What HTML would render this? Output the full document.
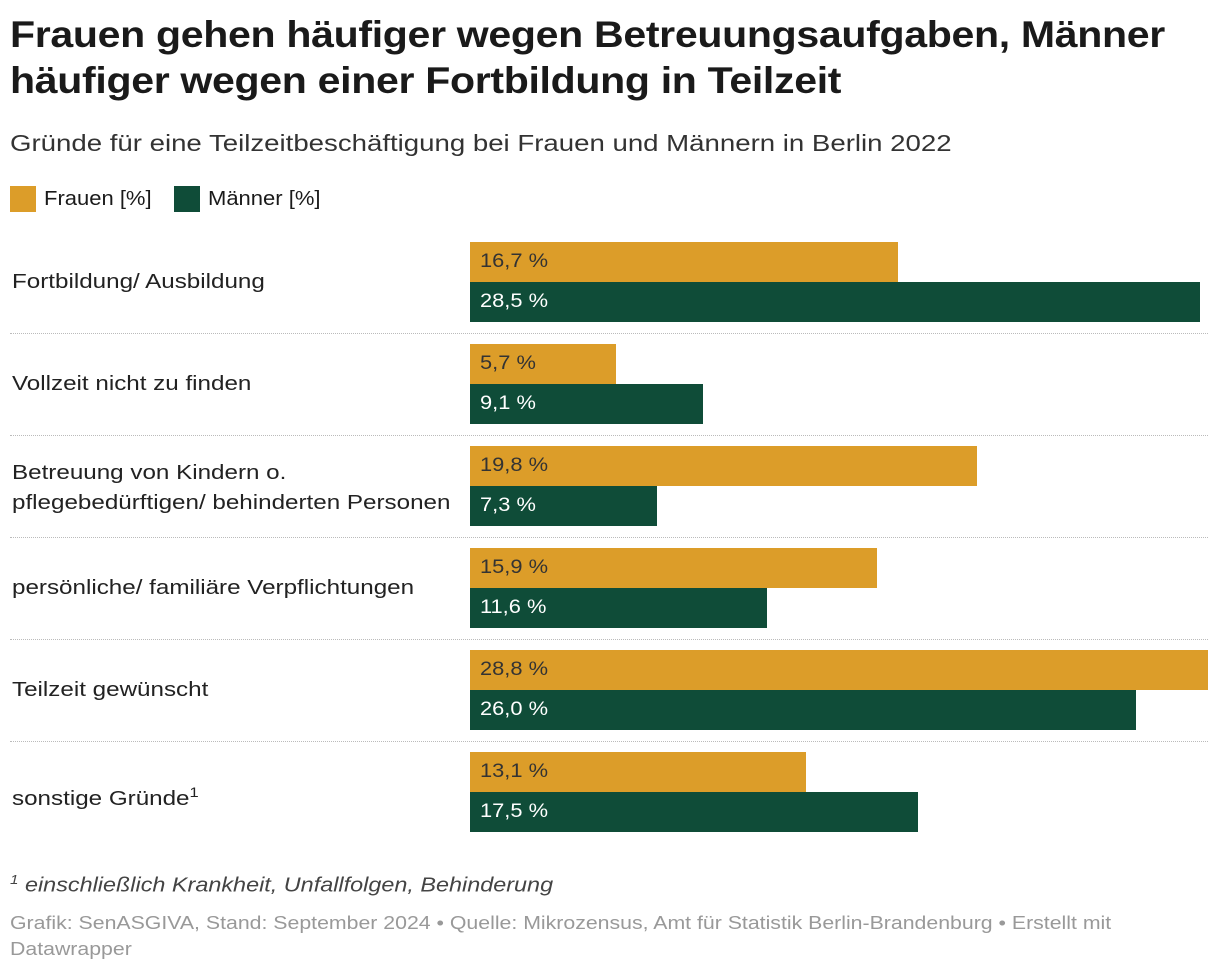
<!DOCTYPE html>
<html><head><meta charset="utf-8"><style>
body{margin:0;width:1220px;height:974px;background:#fff;font-family:"Liberation Sans",sans-serif;color:#1a1a1a;position:relative;overflow:hidden}
.abs{position:absolute;transform-origin:0 0}
h1{position:absolute;left:10px;top:12px;margin:0;font-size:37px;line-height:46px;font-weight:bold;letter-spacing:-0.3px;width:1075px;transform:scaleX(1.11);transform-origin:0 0}
.sub{left:10px;top:130px;font-size:23px;color:#333;transform:scaleX(1.2);white-space:nowrap}
.leg{top:186px;font-size:20px;display:flex;align-items:center}
.sw{width:26px;height:26px;display:inline-block;margin-right:8px}
.lab{left:12px;font-size:20.5px;line-height:30px;color:#222;transform:scaleX(1.18);white-space:nowrap}
.sep{left:10px;width:1198px;border-top:1px dotted #bbb;height:0}
.bar{position:absolute;height:40px}
.val{position:absolute;font-size:19px;line-height:40px;left:10px;white-space:nowrap;transform:scaleX(1.15);transform-origin:0 0}
.note{left:10px;top:872px;font-size:20px;font-style:italic;color:#444;transform:scaleX(1.17);white-space:nowrap}
.src{left:10px;top:910px;font-size:18.5px;color:#999;line-height:26px;width:1000px;transform:scaleX(1.15)}
</style></head><body>
<h1>Frauen gehen häufiger wegen Betreuungsaufgaben, Männer häufiger wegen einer Fortbildung in Teilzeit</h1>
<div class="abs sub">Gründe für eine Teilzeitbeschäftigung bei Frauen und Männern in Berlin 2022</div>
<div class="abs leg" style="left:10px"><span class="sw" style="background:#dc9d29"></span><span style="display:inline-block;transform:scaleX(1.1);transform-origin:0 0">Frauen [%]</span></div>
<div class="abs leg" style="left:174px"><span class="sw" style="background:#0f4c38"></span><span style="display:inline-block;transform:scaleX(1.1);transform-origin:0 0">Männer [%]</span></div>
<div id="chart"></div>
<div class="abs note"><sup style="font-size:13px">1</sup> einschließlich Krankheit, Unfallfolgen, Behinderung</div>
<div class="abs src">Grafik: SenASGIVA, Stand: September 2024 • Quelle: Mikrozensus, Amt für Statistik Berlin-Brandenburg • Erstellt mit Datawrapper</div>
<script>
const categories=["Fortbildung/ Ausbildung","Vollzeit nicht zu finden","Betreuung von Kindern o.<br>pflegebedürftigen/ behinderten Personen","persönliche/ familiäre Verpflichtungen","Teilzeit gewünscht","sonstige Gründe<sup style='font-size:14px'>1</sup>"];
const frauen=[16.7,5.7,19.8,15.9,28.8,13.1];
const maenner=[28.5,9.1,7.3,11.6,26.0,17.5];
const xMax=28.8, x0=470, xW=738, top0=242, pitch=102;
const x=v=>v/xMax*xW;
const c=document.getElementById('chart');
const fmt=v=>v.toFixed(1).replace('.',',')+' %';
categories.forEach((cat,i)=>{
  const y=top0+i*pitch;
  const l=document.createElement('div');
  l.className='abs lab';
  
  
  l.innerHTML=cat;
  l.style.top=(cat.includes('<br>')? y+12 : y+25)+'px';
  c.appendChild(l);
  [[frauen[i],'#dc9d29','#333','bar-frauen'],[maenner[i],'#0f4c38','#fff','bar-maenner']].forEach((s,j)=>{
    const b=document.createElement('div');
    b.className='bar';
    
    
    b.style.left=x0+'px';b.style.top=(y+j*40)+'px';b.style.width=x(s[0])+'px';b.style.background=s[1];
    const t=document.createElement('span');
    t.className='val';t.style.color=s[2];t.textContent=fmt(s[0]);
    
    
    b.appendChild(t);c.appendChild(b);
  });
  if(i<categories.length-1){
    const sp=document.createElement('div');
    sp.className='abs sep';
    
    
    sp.style.top=(y+91)+'px';c.appendChild(sp);
  }
});
</script>
</body></html>
